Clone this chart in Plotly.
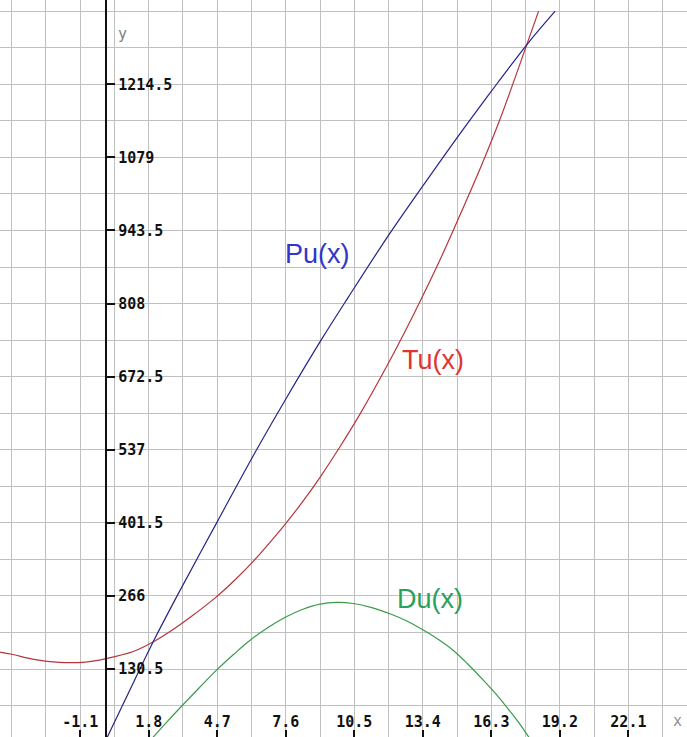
import plotly.graph_objects as go

# ---- data ----
x_ticks = [-1.1, 1.8, 4.7, 7.6, 10.5, 13.4, 16.3, 19.2, 22.1]
x_labels = ["-1.1", "1.8", "4.7", "7.6", "10.5", "13.4", "16.3", "19.2", "22.1"]
y_ticks = [130.5, 266, 401.5, 537, 672.5, 808, 943.5, 1079, 1214.5]
y_labels = ["130.5", "266", "401.5", "537", "672.5", "808", "943.5", "1079", "1214.5"]

pu_x = [0, 1.2, 2.0, 2.95, 4.68, 6.3, 7.64, 9.12, 10.25, 11.94, 13.14, 14.27, 15.26, 16.53, 17.84, 19.0]
pu_y = [0, 110, 182, 262, 402, 532, 634, 742, 820, 934, 1010, 1080, 1140, 1215, 1290, 1350]

tu_x = [-4.49, -4.0, -3.0, -2.0, -1.0, 0, 1.15, 2.0, 2.7, 3.6, 4.6, 5.5, 6.3, 7.5, 8.3, 9.05,
        9.9, 10.74, 11.9, 13.0, 14.0, 14.83, 15.89, 16.67, 17.84, 18.3]
tu_y = [162, 158, 148, 143, 143, 150, 163, 181, 200, 228, 262, 298, 334, 395, 440, 486,
        543, 603, 694, 787, 877, 958, 1065, 1150, 1293, 1350]

du_x = [1.9, 2.6, 3.2, 3.9, 4.68, 5.4, 6.09, 6.9, 7.64, 8.3, 9.05, 9.75, 10.46, 11.2, 12.01,
        12.7, 13.42, 14.0, 14.69, 15.3, 15.96, 16.5, 16.95, 17.4, 17.8, 17.95]
du_y = [0, 34, 62, 94, 129, 158, 184, 209, 228, 241, 251, 254, 252, 245, 233,
        220, 203, 187, 165, 140, 110, 84, 60, 35, 10, 0]

X_RANGE = [-4.494, 24.58]
Y_RANGE = [4.6, 1370.7]

GRID = "#c0c0c0"
TICKFONT = dict(family="DejaVu Sans Mono", size=15, color="#111111", weight="bold")

fig = go.Figure()
fig.add_trace(go.Scatter(x=tu_x, y=tu_y, mode="lines", name="Tu(x)",
                         line=dict(color="#b8343c", width=1.2, shape="spline", smoothing=1.0)))
fig.add_trace(go.Scatter(x=pu_x, y=pu_y, mode="lines", name="Pu(x)",
                         line=dict(color="#24248a", width=1.2, shape="spline", smoothing=1.0)))
fig.add_trace(go.Scatter(x=du_x, y=du_y, mode="lines", name="Du(x)",
                         line=dict(color="#3a9a4a", width=1.2, shape="spline", smoothing=1.0)))

y_axis_pos = (0 - X_RANGE[0]) / (X_RANGE[1] - X_RANGE[0])

fig.update_layout(
    width=687, height=737,
    margin=dict(l=0, r=0, t=0, b=0),
    paper_bgcolor="white", plot_bgcolor="white",
    showlegend=False,
    xaxis=dict(
        range=X_RANGE, tickmode="array", tickvals=x_ticks, ticktext=x_labels,
        ticks="inside", ticklen=7, tickwidth=1.5, tickcolor="#111111",
        ticklabelposition="inside", tickfont=TICKFONT,
        showgrid=True, gridcolor=GRID, gridwidth=1,
        minor=dict(tickmode="linear", tick0=-1.1, dtick=1.45, showgrid=True,
                   gridcolor=GRID, gridwidth=1, ticks=""),
        zeroline=False, showline=False,
    ),
    yaxis=dict(
        range=Y_RANGE, tickmode="array", tickvals=y_ticks, ticktext=y_labels,
        anchor="free", position=y_axis_pos, side="right",
        ticks="outside", ticklen=8, tickwidth=1.5, tickcolor="#111111",
        tickfont=TICKFONT,
        showline=True, linecolor="#111111", linewidth=2,
        showgrid=True, gridcolor=GRID, gridwidth=1,
        minor=dict(tickmode="linear", tick0=130.5, dtick=67.75, showgrid=True,
                   gridcolor=GRID, gridwidth=1, ticks=""),
        zeroline=False,
    ),
    shapes=[dict(type="rect", xref="paper", x0=0, x1=1, yref="y", y0=1351.5, y1=1400,
                 fillcolor="white", line=dict(width=0), layer="between")],
    annotations=[
        dict(x=8.94, y=900, xref="x", yref="y", text="Pu(x)", showarrow=False,
             font=dict(family="Liberation Sans", size=27, color="#3434c8")),
        dict(x=13.83, y=704, xref="x", yref="y", text="Tu(x)", showarrow=False,
             font=dict(family="Liberation Sans", size=27, color="#e03434")),
        dict(x=13.70, y=260, xref="x", yref="y", text="Du(x)", showarrow=False,
             font=dict(family="Liberation Sans", size=27, color="#2aa05a")),
        dict(x=0, y=1308, xref="x", yref="y", text="y", showarrow=False,
             xanchor="left", xshift=10,
             font=dict(family="DejaVu Sans Mono", size=15, color="#808080")),
        dict(x=23.9, y=34, xref="x", yref="y", text="x", showarrow=False,
             xanchor="left",
             font=dict(family="DejaVu Sans Mono", size=15, color="#909090")),
    ],
)

fig.write_html("out.html", config={"displayModeBar": False},
               post_script="document.body.style.margin='0px';document.body.style.overflow='hidden';")
